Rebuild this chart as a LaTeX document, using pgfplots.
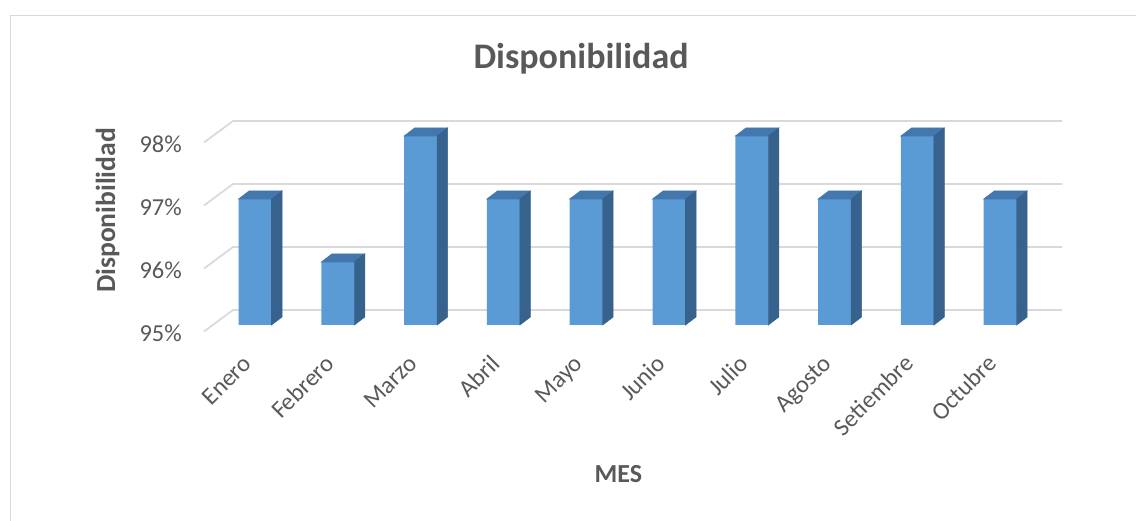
\documentclass[border=0pt]{standalone}
\usepackage{pgfplots}
\usepackage{pgfplotstable}
\pgfplotsset{compat=1.18}
\usepackage{fontspec}
\setmainfont{Carlito}
\definecolor{front}{HTML}{5B9BD5}
\definecolor{topc}{HTML}{4477AD}
\definecolor{sidec}{HTML}{36628D}
\definecolor{gridc}{HTML}{D9D9D9}
\definecolor{txt}{HTML}{595959}
\pgfdeclareplotmark{none3d}{}
\pgfplotstableread{
x v
0 97
1 96
2 98
3 97
4 97
5 97
6 98
7 97
8 98
9 97
}\datatable
\begin{document}
\begin{tikzpicture}
\useasboundingbox (0pt,0pt) rectangle (852pt,390.75pt);
\draw[gridc, line width=1.1pt] (7.9pt,0pt) -- (7.9pt,379.1pt) -- (852pt,379.1pt);
\foreach \v in {95,96,97,98}{
  \pgfmathsetmacro\yf{147+47.25*(\v-95)-4.875}
  \pgfmathsetmacro\yk{147+47.25*(\v-95)+11.25}
  \draw[gridc, line width=1.3pt] (153pt,\yf pt) -- (174.75pt,\yk pt) -- (796.5pt,\yk pt);
}
\node[anchor=base, font=\bfseries\fontsize{27}{30}\selectfont, text=txt] at (435.75pt,339pt) {Disponibilidad};
\node[anchor=base, rotate=90, font=\bfseries\fontsize{20.7}{24}\selectfont, text=txt] at (86.25pt,232.9pt) {Disponibilidad};
\node[anchor=base, font=\bfseries\fontsize{19.5}{22}\selectfont, text=txt] at (463.8pt,28.5pt) {MES};
\begin{axis}[
  at={(160.2pt,147pt)}, anchor=south west,
  scale only axis, width=621pt, height=165.375pt,
  xmin=-0.5, xmax=9.5, ymin=95, ymax=98.5,
  axis line style={draw=none}, major tick length=0pt,
  xtick={0,...,9},
  xticklabels={Enero,Febrero,Marzo,Abril,Mayo,Junio,Julio,Agosto,Setiembre,Octubre},
  ytick={95,96,97,98},
  yticklabels={95\%,96\%,97\%,98\%},
  tick label style={font=\fontsize{18.3}{20}\selectfont, text=txt},
  yticklabel style={anchor=east, inner sep=0pt, xshift=-23.7pt, yshift=-6pt},
  xticklabel style={anchor=base east, inner sep=0pt, xshift=-1.5pt, yshift=-30pt, rotate=45},
]
\addplot[ybar, bar width=24.75pt, fill=front, draw=none] table[x=x,y=v]{\datatable};
\addplot[only marks, scatter, mark=none3d, point meta=y, point meta min=95, point meta max=98,
  scatter/@pre marker code/.code={%
    \pgfmathsetmacro\hh{\pgfplotspointmetatransformed*0.14175}%
    \fill[topc] (-12.375pt,0pt) -- (-4.5pt,6pt) -- (20.25pt,6pt) -- (12.375pt,0pt) -- cycle;
    \fill[sidec] (12.375pt,0pt) -- (20.25pt,6pt) -- (20.25pt,6pt-\hh pt) -- (12.375pt,-\hh pt) -- cycle;
  },
  scatter/@post marker code/.code={}] table[x=x,y=v]{\datatable};
\end{axis}
\end{tikzpicture}
\end{document}
